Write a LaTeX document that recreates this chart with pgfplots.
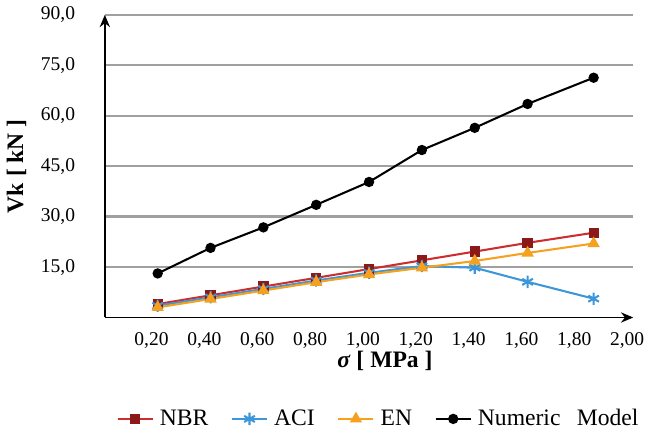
\documentclass[border=0pt]{standalone}
\usepackage{fontspec}
\setmainfont{Liberation Serif}
\usepackage{pgfplots}
\pgfplotsset{compat=1.18}
\usetikzlibrary{arrows.meta}

\definecolor{nbrline}{RGB}{205,45,45}
\definecolor{nbrmark}{RGB}{140,25,25}
\definecolor{aciblue}{RGB}{60,150,215}
\definecolor{enorange}{RGB}{245,160,30}
\definecolor{gridgray}{RGB}{160,160,160}

\begin{document}
\begin{tikzpicture}
\begin{axis}[
    width=257.5pt, height=147.5pt, scale only axis,
    xmin=0, xmax=2.0, ymin=0, ymax=90,
    axis lines=left,
    axis line style={line width=0.9pt, -{Stealth[length=6pt,width=5pt]}},
    xtick={0.2,0.4,...,2.0},
    ytick={15,30,...,90},
    tick align=outside,
    major tick length=11pt,
    xtick style={draw=none}, ytick style={draw=none},
    ymajorgrids, grid style={gridgray, line width=1.1pt},
    font=\fontsize{9.5}{11}\selectfont,
    /pgf/number format/assume math mode=true,
    x tick label style={/pgf/number format/fixed, /pgf/number format/fixed zerofill, /pgf/number format/precision=2, /pgf/number format/use comma},
    y tick label style={/pgf/number format/fixed, /pgf/number format/fixed zerofill, /pgf/number format/precision=1, /pgf/number format/use comma},
    xticklabel style={yshift=7pt, xshift=-3pt},
    xlabel={\textbf{\textit{σ} [ MPa ]}},
    ylabel={\textbf{Vk [ kN ]}},
    label style={font=\fontsize{11.5}{13}\selectfont},
    xlabel style={at={(axis description cs:0.53,-0.145)}, anchor=center},
    ylabel style={at={(axis description cs:-0.167,0.5)}, anchor=center},
    legend columns=4,
    legend style={draw=none, at={(axis description cs:0.52,-0.335)}, anchor=center,
        /tikz/every odd column/.append style={column sep=1pt},
        /tikz/every even column/.append style={column sep=9pt},
        font=\fontsize{11.5}{13}\selectfont, inner sep=0pt},
    legend cell align=left,
]
\addplot[nbrline, line width=1pt, mark=square*, mark size=2pt, mark options={fill=nbrmark, draw=nbrmark}]
    coordinates {(0.2,4.0) (0.4,6.6) (0.6,9.2) (0.8,11.8) (1.0,14.4) (1.2,17.0) (1.4,19.6) (1.6,22.2) (1.85,25.2)};
\addlegendentry{NBR}
\addplot[aciblue, line width=1pt, mark=asterisk, mark size=3pt, mark options={line width=1pt}]
    coordinates {(0.2,3.5) (0.4,6.0) (0.6,8.5) (0.8,11.0) (1.0,13.3) (1.2,15.3) (1.4,14.8) (1.6,10.6) (1.85,5.6)};
\addlegendentry{ACI}
\addplot[enorange, line width=1pt, mark=triangle*, mark size=2.5pt, mark options={fill=enorange}]
    coordinates {(0.2,3.0) (0.4,5.5) (0.6,8.0) (0.8,10.5) (1.0,12.8) (1.2,14.8) (1.4,16.8) (1.6,19.2) (1.85,22.0)};
\addlegendentry{EN}
\addplot[black, line width=1pt, mark=*, mark size=2pt]
    coordinates {(0.2,13.1) (0.4,20.7) (0.6,26.8) (0.8,33.5) (1.0,40.3) (1.2,49.8) (1.4,56.4) (1.6,63.5) (1.85,71.3)};
\addlegendentry{Numeric\hspace{8pt}Model}
\end{axis}
\end{tikzpicture}
\end{document}
